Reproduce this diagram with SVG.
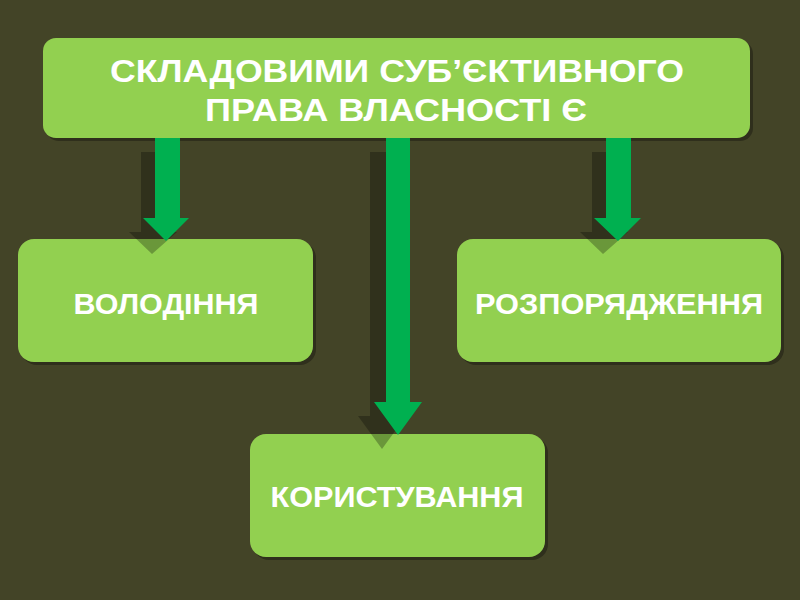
<svg xmlns="http://www.w3.org/2000/svg" width="800" height="600" viewBox="0 0 800 600">
<style>
.box{fill:#92d050}
.bsh{fill:#2f2f1c}
.arr{fill:#00b050}
.ash{fill:#000;opacity:0.27}
text{font-family:"Liberation Sans",Arial,sans-serif;font-weight:bold;fill:#fff;text-anchor:middle}
.t1{font-size:32px}
.t2{font-size:29px}
</style>
<rect width="800" height="600" fill="#434427"/>
<g id="node-top">
  <rect class="bsh" x="46" y="41" width="707" height="100" rx="13"/>
  <rect class="box" x="43" y="38" width="707" height="100" rx="13"/>
  <text class="t1" x="397" y="82" textLength="574" lengthAdjust="spacingAndGlyphs">СКЛАДОВИМИ СУБ’ЄКТИВНОГО</text>
  <text class="t1" x="396" y="121" textLength="382" lengthAdjust="spacingAndGlyphs">ПРАВА ВЛАСНОСТІ Є</text>
</g>
<g id="node-left">
  <rect class="bsh" x="21" y="242" width="295" height="123" rx="16"/>
  <rect class="box" x="18" y="239" width="295" height="123" rx="16"/>
  <text class="t2" x="166" y="314" textLength="185" lengthAdjust="spacingAndGlyphs">ВОЛОДІННЯ</text>
</g>
<g id="node-right">
  <rect class="bsh" x="460" y="242" width="324" height="123" rx="16"/>
  <rect class="box" x="457" y="239" width="324" height="123" rx="16"/>
  <text class="t2" x="619" y="314" textLength="288" lengthAdjust="spacingAndGlyphs">РОЗПОРЯДЖЕННЯ</text>
</g>
<g id="node-bottom">
  <rect class="bsh" x="253" y="437" width="295" height="123" rx="16"/>
  <rect class="box" x="250" y="434" width="295" height="123" rx="16"/>
  <text class="t2" x="397" y="507" textLength="253" lengthAdjust="spacingAndGlyphs">КОРИСТУВАННЯ</text>
</g>
<g id="connectors">
  <g id="arrow-left">
    <path class="ash" d="M141,152 H166 V232 H177 L152,254 L129,232 H141 Z"/>
    <path class="arr" d="M155,138 H180 V218 H189 L166,241 L143,218 H155 Z"/>
  </g>
  <g id="arrow-middle">
    <path class="ash" d="M370,152 H394 V416 H406 L382,449 L358,416 H370 Z"/>
    <path class="arr" d="M386,138 H410 V402 H422 L398,435 L374,402 H386 Z"/>
  </g>
  <g id="arrow-right">
    <path class="ash" d="M592,152 H617 V232 H628 L603,254 L580,232 H592 Z"/>
    <path class="arr" d="M606,138 H631 V218 H641 L618,241 L594,218 H606 Z"/>
  </g>
</g>
</svg>
